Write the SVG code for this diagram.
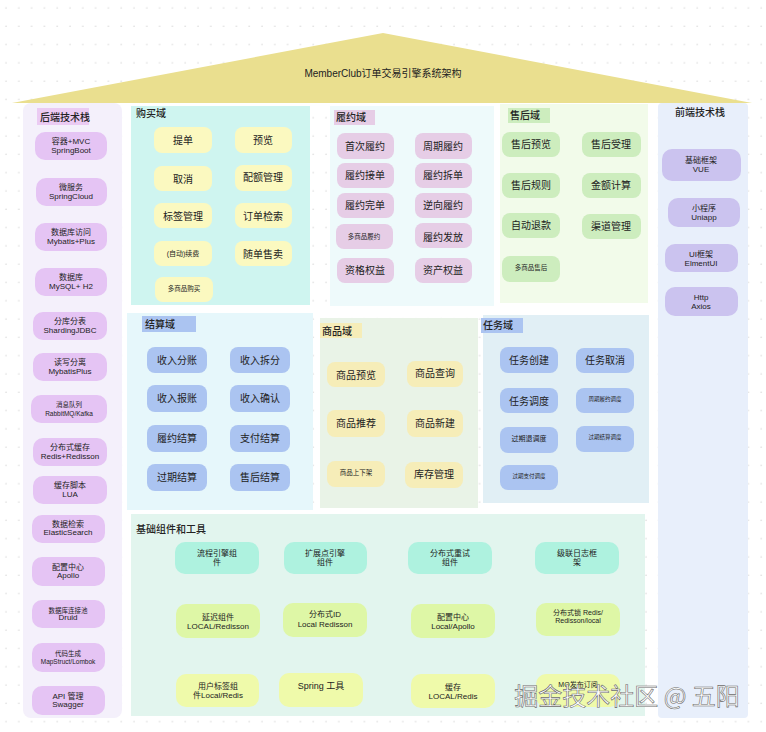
<svg xmlns="http://www.w3.org/2000/svg" width="766" height="732" viewBox="0 0 766 732">
<defs>
<pattern id="dots" x="0" y="0" width="12.8" height="18.3" patternUnits="userSpaceOnUse">
<circle cx="6" cy="8" r="0.7" fill="#d4d4d4"/>
</pattern>
<style>
text{font-family:"Liberation Sans","Noto Sans CJK SC",sans-serif;fill:#222;text-anchor:middle;dominant-baseline:central}
.t{font-size:10px}
.s{font-size:8px}
.xs{font-size:6.5px}
.lt{font-size:8px}
.hd{font-size:10px;text-anchor:start;font-weight:500}
.bk{fill:#E5C4F4}
.pu{fill:#FBF9C0}
.fu{fill:#E6CDE6}
.af{fill:#CDEDBE}
.fe{fill:#CBC3EF}
.bl{fill:#ABC4F1}
.cm{fill:#F6EDB8}
.r1{fill:#AEF2DF}
.r2{fill:#DEF7A6}
.r3{fill:#EFFAAA}
</style>
</defs>
<rect width="766" height="732" fill="#ffffff"/>
<rect width="766" height="732" fill="url(#dots)"/>

<g id="roof">
<polygon points="383,33 752,103 12,103" fill="#EADF8F"/>
<text x="383" y="73" style="font-size:10px">MemberClub订单交易引擎系统架构</text>
</g>

<g id="backend">
<rect x="23" y="103" width="99" height="615" rx="8" fill="#F4F0FB"/>
<rect x="37" y="108" width="52" height="17" fill="#EBCBF3"/>
<text x="40" y="117" class="hd">后端技术栈</text>
<g id="b1"><rect x="35" y="132" width="72" height="28" rx="10" class="bk"/><text x="71" y="141" class="lt">容器+MVC</text><text x="71" y="150" class="lt">SpringBoot</text></g>
<g id="b2"><rect x="36" y="178" width="71" height="28" rx="10" class="bk"/><text x="71" y="187" class="lt">微服务</text><text x="71" y="196" class="lt">SpringCloud</text></g>
<g id="b3"><rect x="35" y="223" width="72" height="28" rx="10" class="bk"/><text x="71" y="232" class="lt">数据库访问</text><text x="71" y="241" class="lt">Mybatis+Plus</text></g>
<g id="b4"><rect x="35" y="268" width="72" height="28" rx="10" class="bk"/><text x="71" y="277" class="lt">数据库</text><text x="71" y="286" class="lt">MySQL+ H2</text></g>
<g id="b5"><rect x="33" y="312" width="74" height="28" rx="10" class="bk"/><text x="70" y="321" class="lt">分库分表</text><text x="70" y="330" class="lt">ShardingJDBC</text></g>
<g id="b6"><rect x="33" y="353" width="74" height="28" rx="10" class="bk"/><text x="70" y="362" class="lt">读写分离</text><text x="70" y="371" class="lt">MybatisPlus</text></g>
<g id="b7"><rect x="31" y="395" width="76" height="28" rx="10" class="bk"/><text x="69" y="404" class="xs">消息队列</text><text x="69" y="413" class="xs">RabbitMQ/Kafka</text></g>
<g id="b8"><rect x="33" y="438" width="74" height="28" rx="10" class="bk"/><text x="70" y="447" class="lt">分布式缓存</text><text x="70" y="456" class="lt">Redis+Redisson</text></g>
<g id="b9"><rect x="33" y="476" width="74" height="28" rx="10" class="bk"/><text x="70" y="485" class="lt">缓存脚本</text><text x="70" y="494" class="lt">LUA</text></g>
<g id="b10"><rect x="32" y="515" width="73" height="28" rx="10" class="bk"/><text x="68" y="524" class="lt">数据检索</text><text x="68" y="532" class="lt">ElasticSearch</text></g>
<g id="b11"><rect x="32" y="557" width="73" height="29" rx="10" class="bk"/><text x="68" y="567" class="lt">配置中心</text><text x="68" y="575" class="lt">Apollo</text></g>
<g id="b12"><rect x="32" y="600" width="73" height="28" rx="10" class="bk"/><text x="68" y="610" class="xs">数据库连接池</text><text x="68" y="617" class="lt">Druid</text></g>
<g id="b13"><rect x="32" y="643" width="73" height="29" rx="10" class="bk"/><text x="68" y="653" class="xs">代码生成</text><text x="68" y="661" class="xs">MapStruct/Lombok</text></g>
<g id="b14"><rect x="32" y="686" width="73" height="29" rx="10" class="bk"/><text x="68" y="696" class="lt">API 管理</text><text x="68" y="704" class="lt">Swagger</text></g>
</g>

<g id="purchase">
<rect x="131" y="106" width="179" height="199" fill="#CFF5F0"/>
<text x="136" y="113" class="hd">购买域</text>
<g id="p1"><rect x="154" y="127" width="58" height="26" rx="8" class="pu"/><text x="183" y="140" class="t">提单</text></g>
<g id="p2"><rect x="235" y="127" width="57" height="26" rx="8" class="pu"/><text x="263" y="140" class="t">预览</text></g>
<g id="p3"><rect x="154" y="166" width="58" height="25" rx="8" class="pu"/><text x="183" y="179" class="t">取消</text></g>
<g id="p4"><rect x="235" y="165" width="57" height="26" rx="8" class="pu"/><text x="263" y="177" class="t">配额管理</text></g>
<g id="p5"><rect x="154" y="203" width="58" height="25" rx="8" class="pu"/><text x="183" y="216" class="t">标签管理</text></g>
<g id="p6"><rect x="235" y="203" width="57" height="25" rx="8" class="pu"/><text x="263" y="216" class="t">订单检索</text></g>
<g id="p7"><rect x="154" y="241" width="58" height="25" rx="8" class="pu"/><text x="183" y="253" class="xs" style="font-size:7px">(自动)续费</text></g>
<g id="p8"><rect x="235" y="241" width="57" height="25" rx="8" class="pu"/><text x="263" y="254" class="t">随单售卖</text></g>
<g id="p9"><rect x="155" y="277" width="58" height="25" rx="8" class="pu"/><text x="184" y="288" class="xs">多商品购买</text></g>
</g>

<g id="fulfill">
<rect x="330" y="106" width="164" height="200" fill="#EEFAFB"/>
<rect x="334" y="110" width="41" height="15" class="fu"/>
<text x="336" y="117" class="hd">履约域</text>
<g id="f1"><rect x="337" y="133" width="57" height="26" rx="8" class="fu"/><text x="365" y="146" class="t">首次履约</text></g>
<g id="f2"><rect x="415" y="133" width="57" height="26" rx="8" class="fu"/><text x="443" y="146" class="t">周期履约</text></g>
<g id="f3"><rect x="337" y="163" width="57" height="25" rx="8" class="fu"/><text x="365" y="175" class="t">履约接单</text></g>
<g id="f4"><rect x="415" y="163" width="57" height="25" rx="8" class="fu"/><text x="443" y="175" class="t">履约拆单</text></g>
<g id="f5"><rect x="337" y="193" width="57" height="25" rx="8" class="fu"/><text x="365" y="205" class="t">履约完单</text></g>
<g id="f6"><rect x="415" y="193" width="57" height="25" rx="8" class="fu"/><text x="443" y="205" class="t">逆向履约</text></g>
<g id="f7"><rect x="336" y="224" width="57" height="25" rx="8" class="fu"/><text x="364" y="236" class="xs">多商品履约</text></g>
<g id="f8"><rect x="415" y="223" width="57" height="25" rx="8" class="fu"/><text x="443" y="237" class="t">履约发放</text></g>
<g id="f9"><rect x="337" y="258" width="57" height="25" rx="8" class="fu"/><text x="365" y="270" class="t">资格权益</text></g>
<g id="f10"><rect x="415" y="258" width="57" height="25" rx="8" class="fu"/><text x="443" y="270" class="t">资产权益</text></g>
</g>

<g id="aftersale">
<rect x="500" y="104" width="148" height="199" fill="#F2FBEA"/>
<rect x="508" y="108" width="42" height="15" class="af"/>
<text x="510" y="115" class="hd">售后域</text>
<g id="a1"><rect x="502" y="132" width="58" height="25" rx="8" class="af"/><text x="531" y="144" class="t">售后预览</text></g>
<g id="a2"><rect x="582" y="132" width="59" height="25" rx="8" class="af"/><text x="611" y="144" class="t">售后受理</text></g>
<g id="a3"><rect x="502" y="173" width="58" height="25" rx="8" class="af"/><text x="531" y="185" class="t">售后规则</text></g>
<g id="a4"><rect x="582" y="173" width="59" height="25" rx="8" class="af"/><text x="611" y="185" class="t">金额计算</text></g>
<g id="a5"><rect x="502" y="213" width="58" height="25" rx="8" class="af"/><text x="531" y="225" class="t">自动退款</text></g>
<g id="a6"><rect x="582" y="214" width="59" height="25" rx="8" class="af"/><text x="611" y="226" class="t">渠道管理</text></g>
<g id="a7"><rect x="502" y="256" width="58" height="26" rx="8" class="af"/><text x="531" y="267" class="xs">多商品售后</text></g>
</g>

<g id="frontend">
<rect x="658" y="103" width="90" height="615" rx="4" fill="#E8EFFB"/>
<text x="675" y="112" class="hd">前端技术栈</text>
<g id="fe1"><rect x="662" y="149" width="79" height="32" rx="10" class="fe"/><text x="701" y="160" class="lt">基础框架</text><text x="701" y="169" class="lt">VUE</text></g>
<g id="fe2"><rect x="668" y="198" width="72" height="29" rx="10" class="fe"/><text x="704" y="208" class="lt">小程序</text><text x="704" y="217" class="lt">Uniapp</text></g>
<g id="fe3"><rect x="665" y="244" width="73" height="28" rx="10" class="fe"/><text x="701" y="254" class="lt">UI框架</text><text x="701" y="263" class="lt">ElmentUI</text></g>
<g id="fe4"><rect x="665" y="287" width="73" height="29" rx="10" class="fe"/><text x="701" y="297" class="lt">Http</text><text x="701" y="306" class="lt">Axios</text></g>
</g>

<g id="settle">
<rect x="127" y="313" width="186" height="197" fill="#E6F7FB"/>
<rect x="142" y="316" width="54" height="16" class="bl"/>
<text x="145" y="324" class="hd">结算域</text>
<g id="s1"><rect x="147" y="347" width="60" height="26" rx="8" class="bl"/><text x="177" y="360" class="t">收入分账</text></g>
<g id="s2"><rect x="230" y="347" width="60" height="26" rx="8" class="bl"/><text x="260" y="360" class="t">收入拆分</text></g>
<g id="s3"><rect x="147" y="385" width="60" height="27" rx="8" class="bl"/><text x="177" y="398" class="t">收入报账</text></g>
<g id="s4"><rect x="230" y="385" width="60" height="27" rx="8" class="bl"/><text x="260" y="398" class="t">收入确认</text></g>
<g id="s5"><rect x="147" y="425" width="60" height="27" rx="8" class="bl"/><text x="177" y="438" class="t">履约结算</text></g>
<g id="s6"><rect x="230" y="425" width="60" height="27" rx="8" class="bl"/><text x="260" y="438" class="t">支付结算</text></g>
<g id="s7"><rect x="147" y="464" width="60" height="27" rx="8" class="bl"/><text x="177" y="477" class="t">过期结算</text></g>
<g id="s8"><rect x="230" y="464" width="60" height="27" rx="8" class="bl"/><text x="260" y="477" class="t">售后结算</text></g>
</g>

<g id="commodity">
<rect x="320" y="318" width="158" height="190" fill="#E9F3E7"/>
<rect x="320" y="323" width="42" height="15" class="cm"/>
<text x="322" y="331" class="hd">商品域</text>
<g id="c1"><rect x="327" y="362" width="58" height="25" rx="8" class="cm"/><text x="356" y="375" class="t">商品预览</text></g>
<g id="c2"><rect x="407" y="361" width="56" height="26" rx="8" class="cm"/><text x="435" y="373" class="t">商品查询</text></g>
<g id="c3"><rect x="327" y="410" width="58" height="27" rx="8" class="cm"/><text x="356" y="423" class="t">商品推荐</text></g>
<g id="c4"><rect x="407" y="410" width="56" height="27" rx="8" class="cm"/><text x="435" y="423" class="t">商品新建</text></g>
<g id="c5"><rect x="327" y="461" width="58" height="26" rx="8" class="cm"/><text x="356" y="472" class="xs">商品上下架</text></g>
<g id="c6"><rect x="405" y="462" width="58" height="26" rx="8" class="cm"/><text x="434" y="474" class="t">库存管理</text></g>
</g>

<g id="task">
<rect x="483" y="315" width="166" height="188" fill="#E1EFF5"/>
<rect x="481" y="318" width="42" height="15" class="bl"/>
<text x="483" y="325" class="hd">任务域</text>
<g id="k1"><rect x="500" y="347" width="58" height="26" rx="8" class="bl"/><text x="529" y="360" class="t">任务创建</text></g>
<g id="k2"><rect x="576" y="348" width="58" height="25" rx="8" class="bl"/><text x="605" y="360" class="t">任务取消</text></g>
<g id="k3"><rect x="500" y="388" width="58" height="25" rx="8" class="bl"/><text x="529" y="401" class="t">任务调度</text></g>
<g id="k4"><rect x="576" y="388" width="58" height="25" rx="8" class="bl"/><text x="605" y="399" class="xs" style="font-size:5.5px">周期履约调度</text></g>
<g id="k5"><rect x="500" y="427" width="58" height="26" rx="8" class="bl"/><text x="529" y="438" class="xs" style="font-size:7px">过期退调度</text></g>
<g id="k6"><rect x="576" y="426" width="58" height="26" rx="8" class="bl"/><text x="605" y="437" class="xs" style="font-size:5.5px">过期结算调度</text></g>
<g id="k7"><rect x="500" y="465" width="58" height="25" rx="8" class="bl"/><text x="529" y="476" class="xs" style="font-size:5.5px">过期支付调度</text></g>
</g>

<g id="base">
<rect x="131" y="514" width="514" height="202" fill="#E2F5EE"/>
<text x="136" y="529" class="hd">基础组件和工具</text>
<g id="u1"><rect x="175" y="542" width="84" height="32" rx="10" class="r1"/><text x="217" y="553" class="s">流程引擎组</text><text x="217" y="562" class="s">件</text></g>
<g id="u2"><rect x="284" y="542" width="83" height="32" rx="10" class="r1"/><text x="325" y="553" class="s">扩展点引擎</text><text x="325" y="562" class="s">组件</text></g>
<g id="u3"><rect x="408" y="542" width="84" height="32" rx="10" class="r1"/><text x="450" y="553" class="s">分布式重试</text><text x="450" y="562" class="s">组件</text></g>
<g id="u4"><rect x="535" y="542" width="84" height="32" rx="10" class="r1"/><text x="577" y="553" class="s">级联日志框</text><text x="577" y="562" class="s">架</text></g>
<g id="u5"><rect x="176" y="604" width="84" height="34" rx="10" class="r2"/><text x="218" y="617" class="s">延迟组件</text><text x="218" y="626" class="s">LOCAL/Redisson</text></g>
<g id="u6"><rect x="283" y="603" width="84" height="34" rx="10" class="r2"/><text x="325" y="614" class="s">分布式ID</text><text x="325" y="624" class="s">Local Redisson</text></g>
<g id="u7"><rect x="411" y="604" width="84" height="34" rx="10" class="r2"/><text x="453" y="617" class="s">配置中心</text><text x="453" y="626" class="s">Local/Apollo</text></g>
<g id="u8"><rect x="536" y="603" width="84" height="33" rx="10" class="r2"/><text x="578" y="612" class="xs" style="font-size:7px">分布式锁 Redis/</text><text x="578" y="620" class="xs" style="font-size:7px">Redisson/local</text></g>
<g id="u9"><rect x="176" y="674" width="83" height="33" rx="10" class="r3"/><text x="218" y="686" class="s">用户标签组</text><text x="218" y="695" class="s">件Local/Redis</text></g>
<g id="u10"><rect x="279" y="673" width="84" height="34" rx="10" class="r3"/><text x="321" y="686" class="t" style="font-size:9px">Spring 工具</text></g>
<g id="u11"><rect x="411" y="674" width="84" height="34" rx="10" class="r3"/><text x="453" y="687" class="s">缓存</text><text x="453" y="696" class="s">LOCAL/Redis</text></g>
<g id="u12"><rect x="536" y="674" width="84" height="33" rx="10" class="r3"/><text x="578" y="684" class="xs" style="font-size:7px">MQ发布订阅</text></g>
</g>

<g id="connectors"></g>

<text x="627" y="694" style="font-size:24px;fill:#ffffff;stroke:#6a6a6a;stroke-width:0.6;font-family:'Noto Sans CJK SC',sans-serif">掘金技术社区 @ 五阳</text>
</svg>
